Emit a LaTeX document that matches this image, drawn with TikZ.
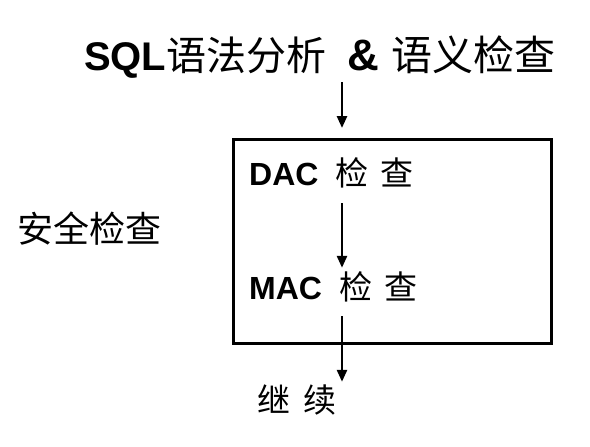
\documentclass[tikz,border=0pt]{standalone}
\usepackage{fontspec}
\setmainfont{Liberation Sans}
\newfontfamily\cjk{Noto Sans CJK SC}
\usetikzlibrary{arrows.meta, positioning, calc}

\newcommand{\zh}[1]{{\cjk\mdseries #1}}

\tikzset{
	txt/.style={inner sep=0pt, anchor=base west},
	big/.style={txt, font=\fontsize{40}{46}\selectfont, text height=36pt, text depth=5pt},
	mid/.style={txt, font=\fontsize{32}{38}\selectfont, text height=28pt, text depth=4pt},
	arr/.style={line width=2.6pt, -{Triangle[length=12pt,width=10pt]}},
}

\begin{document}
\begin{tikzpicture}[x=1pt, y=-1pt]
		\useasboundingbox (0,0) rectangle (590,447);
		\coordinate (spine) at (342,0);
		%%
		\node[big] (title) at (84,70)
			{\bfseries SQL\zh{语法分析}\hspace{21pt}{\fontsize{44}{48}\selectfont\&}\hspace{12pt}{\fontsize{41}{46}\selectfont\zh{语义检查}}};
		\node[draw, line width=3pt, minimum width=318pt, minimum height=204pt, inner sep=0pt] (box) at (392,241) {};
		\node[mid] (dac) at (249,185)
			{\bfseries DAC\hspace{17pt}{\fontsize{33}{38}\selectfont\zh{检}\hspace{12pt}\zh{查}}};
		\node[mid] (mac) at (249,299)
			{\bfseries MAC\hspace{17pt}{\fontsize{33}{38}\selectfont\zh{检}\hspace{12pt}\zh{查}}};
		\node[txt, font=\fontsize{36}{42}\selectfont] (safe) at (17,242) {\zh{安全检查}};
		\node[mid] (cont) at (257,412) {\fontsize{33}{38}\selectfont\zh{继}\hspace{13pt}\zh{续}};
		%%
		\draw[arr, shorten <=7pt, shorten >=9.5pt] (title.south -| spine) -- (box.north -| spine);
		\draw[arr, shorten <=14pt, shorten >=3pt] (dac.south -| spine) -- (mac.north -| spine);
		\draw[arr, shorten <=13pt, shorten >=2pt] (mac.south -| spine) -- (cont.north -| spine);
	\end{tikzpicture}
\end{document}
